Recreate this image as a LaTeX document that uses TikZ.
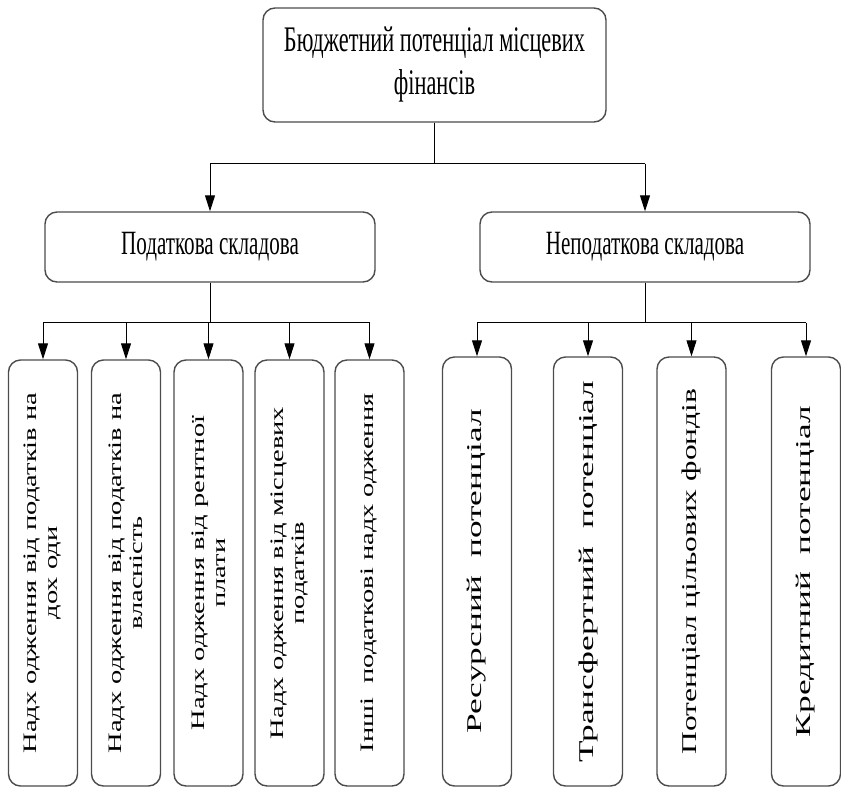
\documentclass[tikz,border=0pt]{standalone}
\usepackage{fontspec}
\setmainfont{Liberation Serif}
\newfontfamily\hfont[FakeStretch=0.62]{Liberation Serif}
\newfontfamily\vfont[FakeStretch=1.5]{Liberation Serif}
\newfontfamily\vfontw[FakeStretch=1.68]{Liberation Serif}
\usetikzlibrary{arrows.meta}

\tikzset{
  rbox/.style={rectangle, rounded corners=12pt, draw=black!70, line width=1.4pt, align=center, inner sep=0pt},
  hbox/.style={rbox, minimum width=330pt, minimum height=70pt, font=\hfont\fontsize{34}{40}\selectfont},
  vbox/.style={rbox, minimum width=69pt, minimum height=426pt},
  vtext/.style={rotate=90, align=center, inner sep=0pt, font=\vfont\fontsize{19}{21}\selectfont},
  vtextbig/.style={vtext, font=\vfontw\fontsize{21}{25}\selectfont},
  arr/.style={-{Triangle[width=10pt,length=16pt]}, line width=0.9pt},
}

\begin{document}
\begin{tikzpicture}[x=1pt, y=-1pt]
    \useasboundingbox (0,0) rectangle (841,788);

    % Top level
    \node[rbox, minimum width=343pt, minimum height=114pt, font=\hfont\fontsize{36}{43}\selectfont] (BP) at (434.5,65) {Бюджетний потенціал місцевих\\фінансів};

    % Components
    \node[hbox] (TAX) at (210,247) {Податкова складова};
    \node[hbox] (NTAX) at (645,247) {Неподаткова складова};

    % Tax revenues
    \node[vbox] (P1) at (43,573) {};
    \node[vbox] (P2) at (126,573) {};
    \node[vbox] (P3) at (208.5,573) {};
    \node[vbox] (P4) at (289.5,573) {};
    \node[vbox] (P5) at (369.5,573) {};
    \node[vtext] (P1t) at (P1) {Надх одження від податків на\\дох оди};
    \node[vtext] (P2t) at (P2) {Надх одження від податків на\\власність};
    \node[vtext] (P3t) at (P3) {Надх одження від рентної\\плати};
    \node[vtext] (P4t) at (P4) {Надх одження від місцевих\\податків};
    \node[vtext] (P5t) at (P5) {Інші\ \ податкові надх одження};

    % Non-tax potential
    \node[vbox, minimum height=429pt] (N1) at (477,571.5) {};
    \node[vbox, minimum height=429pt] (N2) at (588,571.5) {};
    \node[vbox, minimum height=429pt] (N3) at (691.5,571.5) {};
    \node[vbox, minimum height=429pt] (N4) at (806,571.5) {};
    \node[vtextbig] (N1t) at (N1) {Ресурсний\ \ потенціал};
    \node[vtextbig] (N2t) at (N2) {Трансфертний\ \ потенціал};
    \node[vtextbig, font=\vfont\fontsize{21}{25}\selectfont] (N3t) at (N3) {Потенціал цільових фондів};
    \node[vtextbig] (N4t) at (N4) {Кредитний\ \ потенціал};

    % Connections
    \draw[line width=0.9pt] (BP.south) -- ++(0,41) coordinate (tbus);
    \draw[line width=0.9pt] (tbus -| TAX.north) -- (tbus -| NTAX.north);
    \draw[arr] (tbus -| TAX.north) -- (TAX.north);
    \draw[arr] (tbus -| NTAX.north) -- (NTAX.north);

    \draw[line width=0.9pt] (TAX.south) -- ++(0,40) coordinate (lbus);
    \draw[line width=0.9pt] (lbus -| P1.north) -- (lbus -| P5.north);
    \foreach \i in {1,...,5}
        \draw[arr] (lbus -| P\i.north) -- (P\i.north);

    \draw[line width=0.9pt] (NTAX.south) -- ++(0,40) coordinate (rbus);
    \draw[line width=0.9pt] (rbus -| N1.north) -- (rbus -| N4.north);
    \foreach \i in {1,...,4}
        \draw[arr] (rbus -| N\i.north) -- (N\i.north);
\end{tikzpicture}
\end{document}
